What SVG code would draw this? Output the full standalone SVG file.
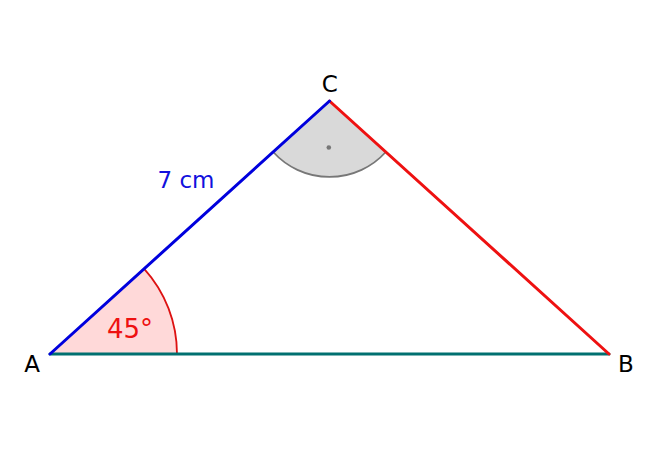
<svg xmlns="http://www.w3.org/2000/svg" width="660" height="457" viewBox="0 0 660 457">
<style>
text{font-family:"DejaVu Sans","Liberation Sans",sans-serif;font-size:23px;text-anchor:middle}
.lbl{fill:#000}
.side{fill:none;stroke-width:3;stroke-linecap:round}
</style>
<rect width="660" height="457" fill="#fff"/>
<g id="angleA">
<path d="M50,354 L144.2,268.8 A127,127 0 0 1 177,354 Z" fill="#ffd9d9"/>
<path d="M144.2,268.8 A127,127 0 0 1 177,354" fill="none" stroke="#dd1111" stroke-width="1.8"/>
<text x="130" y="338" style="fill:#ee1111;font-size:26px">45°</text>
</g>
<g id="angleC">
<path d="M329.5,101 L273.2,152 A76,76 0 0 0 385.8,152 Z" fill="#d9d9d9"/>
<path d="M273.2,152 A76,76 0 0 0 385.8,152" fill="none" stroke="#777" stroke-width="1.8"/>
<circle cx="328.8" cy="147.5" r="2.3" fill="#777"/>
</g>
<g id="connectors">
<line class="side" x1="50" y1="354" x2="609" y2="354" stroke="#007070"/>
<line class="side" x1="329.5" y1="101" x2="609" y2="354" stroke="#ee1111"/>
<line class="side" x1="50" y1="354" x2="329.5" y2="101" stroke="#0000dd"/>
</g>
<g id="A"><text class="lbl" x="32" y="371.5">A</text></g>
<g id="B"><text class="lbl" x="626" y="372">B</text></g>
<g id="C"><text class="lbl" x="329.7" y="91.7">C</text></g>
<g id="sideAC"><text x="186" y="187.5" style="fill:#1111dd">7 cm</text></g>
</svg>
